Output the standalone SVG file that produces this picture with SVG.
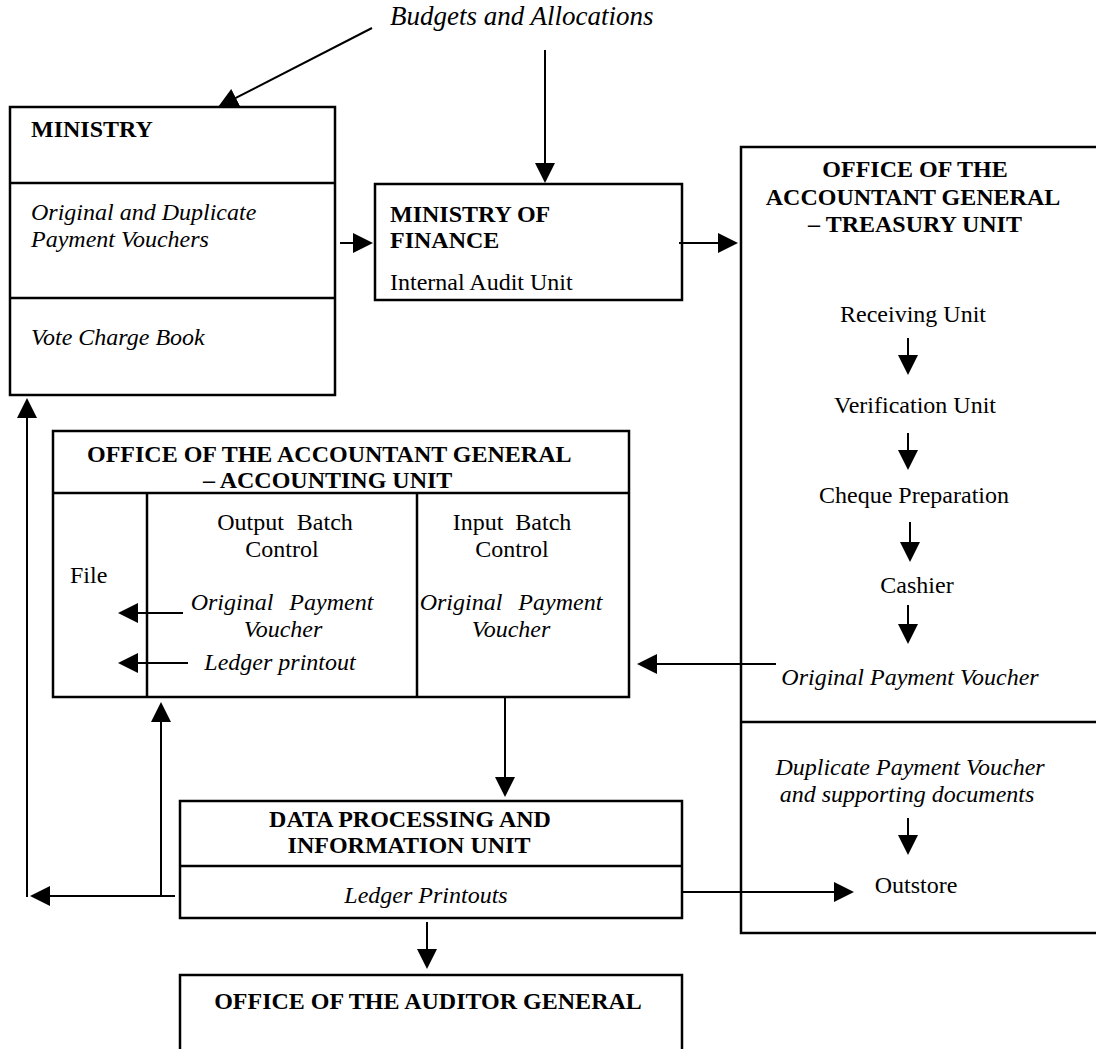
<svg xmlns="http://www.w3.org/2000/svg" width="1096" height="1049" viewBox="0 0 1096 1049">
<defs>
<style>
.box{fill:#fff;stroke:#000;stroke-width:2.5}
.div{stroke:#000;stroke-width:2.5;fill:none}
.c{stroke:#000;stroke-width:2;fill:none;marker-end:url(#ah)}
text{font-family:"Liberation Serif","Times New Roman",serif;font-size:24px;fill:#000}
.b{font-weight:bold}
.i{font-style:italic}
.m{text-anchor:middle}
</style>
<marker id="ah" viewBox="0 0 20 20" refX="16" refY="10" markerWidth="20" markerHeight="20" markerUnits="userSpaceOnUse" orient="auto">
<path d="M0,0 L20,10 L0,20 z" fill="#000"/>
</marker>
</defs>
<rect width="1096" height="1049" fill="#fff"/>

<g id="budgets">
<text class="i" x="390" y="25" style="font-size:27px">Budgets and Allocations</text>
</g>

<g id="ministry">
<rect class="box" x="10" y="107" width="325" height="288"/>
<line class="div" x1="10" y1="183" x2="335" y2="183"/>
<line class="div" x1="10" y1="298" x2="335" y2="298"/>
<text class="b" x="31" y="137">MINISTRY</text>
<text class="i" x="31" y="220">Original and Duplicate</text>
<text class="i" x="31" y="247">Payment Vouchers</text>
<text class="i" x="31" y="345">Vote Charge Book</text>
</g>

<g id="ministry-of-finance">
<rect class="box" x="375" y="184" width="307" height="116"/>
<text class="b" x="390" y="222">MINISTRY OF</text>
<text class="b" x="390" y="248">FINANCE</text>
<text x="390" y="290">Internal Audit Unit</text>
</g>

<g id="treasury">
<rect class="box" x="741" y="147" width="370" height="786"/>
<line class="div" x1="741" y1="722" x2="1110" y2="722"/>
<text class="b m" x="915" y="177">OFFICE OF THE</text>
<text class="b m" x="913" y="205">ACCOUNTANT GENERAL</text>
<text class="b m" x="915" y="232">– TREASURY UNIT</text>
<text class="m" x="913" y="322">Receiving Unit</text>
<text class="m" x="915" y="413">Verification Unit</text>
<text class="m" x="914" y="503">Cheque Preparation</text>
<text class="m" x="917" y="593">Cashier</text>
<text class="i m" x="910" y="685">Original Payment Voucher</text>
<text class="i m" x="910" y="775">Duplicate Payment Voucher</text>
<text class="i m" x="907" y="802">and supporting documents</text>
<text class="m" x="916" y="893">Outstore</text>
</g>

<g id="accounting">
<rect class="box" x="53" y="431" width="576" height="266"/>
<line class="div" x1="53" y1="493" x2="629" y2="493"/>
<line class="div" x1="147" y1="493" x2="147" y2="697"/>
<line class="div" x1="417" y1="493" x2="417" y2="697"/>
<text class="b" x="87" y="462">OFFICE OF THE ACCOUNTANT GENERAL</text>
<text class="b" x="203" y="488">– ACCOUNTING UNIT</text>
<text x="70" y="583">File</text>
<text class="m" x="285" y="530" word-spacing="7">Output Batch</text>
<text class="m" x="282" y="557">Control</text>
<text class="i m" x="282" y="610" word-spacing="10">Original Payment</text>
<text class="i m" x="283" y="637">Voucher</text>
<text class="i m" x="280" y="670">Ledger printout</text>
<text class="m" x="512" y="530" word-spacing="6">Input Batch</text>
<text class="m" x="512" y="557">Control</text>
<text class="i m" x="511" y="610" word-spacing="10">Original Payment</text>
<text class="i m" x="511" y="637">Voucher</text>
</g>

<g id="data-processing">
<rect class="box" x="180" y="801" width="502" height="117"/>
<line class="div" x1="180" y1="866" x2="682" y2="866"/>
<text class="b m" x="410" y="827">DATA PROCESSING AND</text>
<text class="b m" x="409" y="853">INFORMATION UNIT</text>
<text class="i m" x="426" y="903">Ledger Printouts</text>
</g>

<g id="auditor-general">
<rect class="box" x="180" y="975" width="502" height="90"/>
<text class="b m" x="428" y="1009">OFFICE OF THE AUDITOR GENERAL</text>
</g>

<g id="connectors">
<line class="c" x1="372" y1="28" x2="221.6" y2="105.2"/>
<line class="c" x1="545" y1="50" x2="545" y2="179"/>
<line class="c" x1="340" y1="243" x2="369" y2="243"/>
<line class="c" x1="679" y1="243" x2="734" y2="243"/>
<line class="c" x1="908" y1="338" x2="908" y2="371"/>
<line class="c" x1="908" y1="433" x2="908" y2="466"/>
<line class="c" x1="910" y1="522" x2="910" y2="558"/>
<line class="c" x1="908" y1="605" x2="908" y2="640"/>
<line class="c" x1="776" y1="664" x2="641" y2="664"/>
<line class="c" x1="183" y1="613" x2="122" y2="613"/>
<line class="c" x1="188" y1="663" x2="122" y2="663"/>
<line class="c" x1="505" y1="697" x2="505" y2="793"/>
<line class="c" x1="175" y1="896" x2="34" y2="896"/>
<line class="c" x1="27" y1="897" x2="27" y2="402"/>
<line class="c" x1="161" y1="896" x2="161" y2="706"/>
<line class="c" x1="427" y1="922" x2="427" y2="965"/>
<line class="c" x1="681" y1="892" x2="850" y2="892"/>
<line class="c" x1="908" y1="818" x2="908" y2="851"/>
</g>
</svg>
